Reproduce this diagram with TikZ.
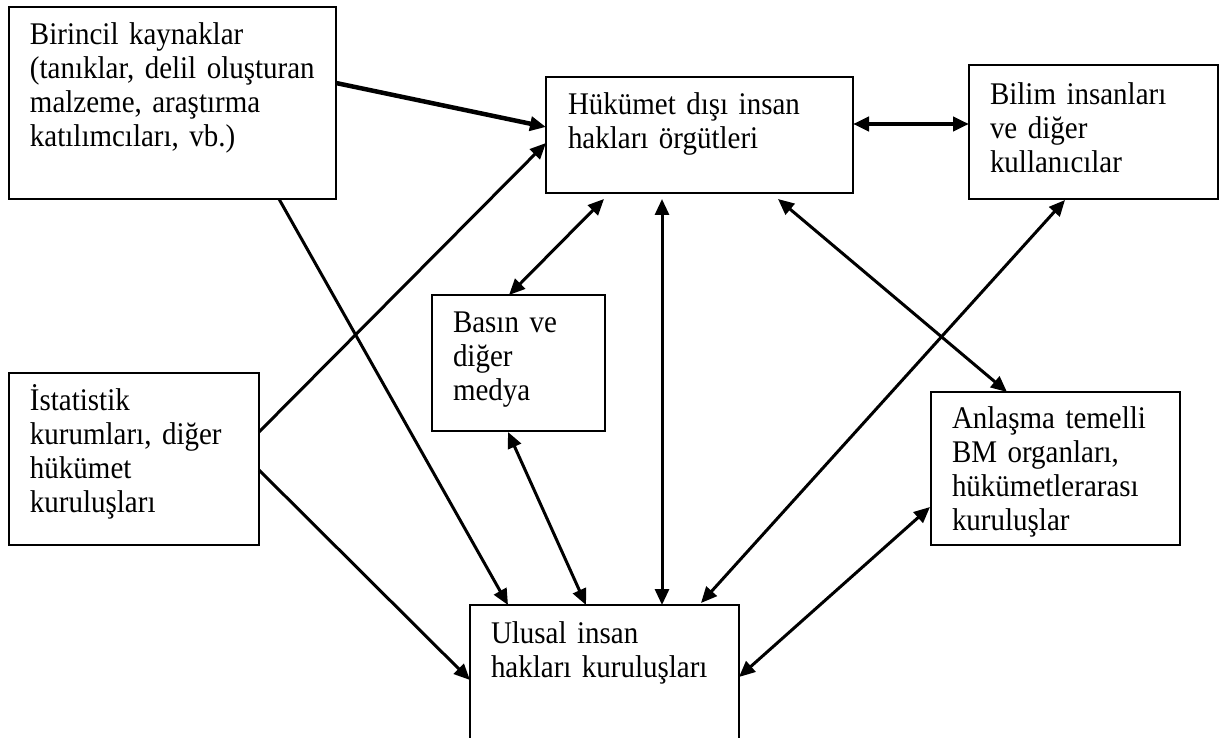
\documentclass[tikz,border=0pt]{standalone}
\usepackage{fontspec}
\setmainfont{Liberation Serif}[FakeStretch=0.92,WordSpace=0.9]
\usetikzlibrary{arrows.meta,calc}
\tikzset{
  box/.style={draw=black, line width=1.6pt, inner sep=0pt, outer sep=0pt, fill=white},
  txt/.style={inner sep=0pt, outer sep=0pt, anchor=base west, text width=320pt, align=left,
              font=\fontsize{31.5}{34}\selectfont},
  arr/.style={-{Triangle[length=16pt,width=14pt]}, line width=3pt},
  darr/.style={{Triangle[length=16pt,width=14pt]}-{Triangle[length=16pt,width=14pt]}, line width=3pt}
}
\begin{document}
\begin{tikzpicture}[x=1pt,y=-1pt]
\useasboundingbox (0,0) rectangle (1219,738);
\clip (0,0) rectangle (1219,738);
\fill[white] (0,0) rectangle (1219,738);

% boxes
\node[box, minimum width=327pt, minimum height=192pt] (A) at (172.5,103) {};
\node[box, minimum width=307pt, minimum height=116pt] (H) at (699.5,135) {};
\node[box, minimum width=249pt, minimum height=134pt] (B) at (1093.5,132) {};
\node[box, minimum width=173pt, minimum height=136pt] (M) at (518.5,363) {};
\node[box, minimum width=250pt, minimum height=172pt] (I) at (134,459) {};
\node[box, minimum width=249pt, minimum height=153pt] (T) at (1055.5,468.5) {};
\node[box, minimum width=269pt, minimum height=160pt] (U) at (604.5,685) {};

% texts
\node[txt] (At) at ($(A.north west)+(21,38)$) {Birincil kaynaklar\\(tanıklar, delil oluşturan\\malzeme, araştırma\\katılımcıları, vb.)};
\node[txt] (Ht) at ($(H.north west)+(22,38)$) {Hükümet dışı insan\\hakları örgütleri};
\node[txt] (Bt) at ($(B.north west)+(21,40)$) {Bilim insanları\\ve diğer\\kullanıcılar};
\node[txt] (Mt) at ($(M.north west)+(21,38)$) {Basın ve\\diğer\\medya};
\node[txt] (It) at ($(I.north west)+(21,37)$) {İstatistik\\kurumları, diğer\\hükümet\\kuruluşları};
\node[txt] (Tt) at ($(T.north west)+(21,36)$) {Anlaşma temelli\\BM organları,\\hükümetlerarası\\kuruluşlar};
\node[txt] (Ut) at ($(U.north west)+(21,38)$) {Ulusal insan\\hakları kuruluşları};

% connectors
\draw[arr, line width=4.5pt] ($(A.north east)+(0,76)$) -- ($(H.north west)+(0,50)$);
\draw[arr] ($(I.north east)+(0,59)$) -- ($(H.north west)+(0,66)$);
\draw[arr] ($(A.south west)+(270,0)$) -- ($(U.north west)+(38,0)$);
\draw[arr] ($(I.north east)+(0,97)$) -- ($(U.north west)+(0,75)$);
\draw[darr] ($(H.south west)+(58,6)$) -- ($(M.north west)+(77,0)$);
\draw[darr] ($(H.south west)+(116,6)$) -- ($(U.north west)+(192,0)$);
\draw[darr, line width=4pt] ($(H.north east)+(0,47)$) -- ($(B.north west)+(0,59)$);
\draw[darr] ($(H.south west)+(232,6)$) -- ($(T.north west)+(76,0)$);
\draw[darr] ($(B.south west)+(96,1)$) -- ($(U.north west)+(231,-2)$);
\draw[darr] ($(M.south west)+(76,1)$) -- ($(U.north west)+(116,0)$);
\draw[darr] ($(T.north west)+(-1,115)$) -- ($(U.north east)+(0,72)$);
\end{tikzpicture}
\end{document}
